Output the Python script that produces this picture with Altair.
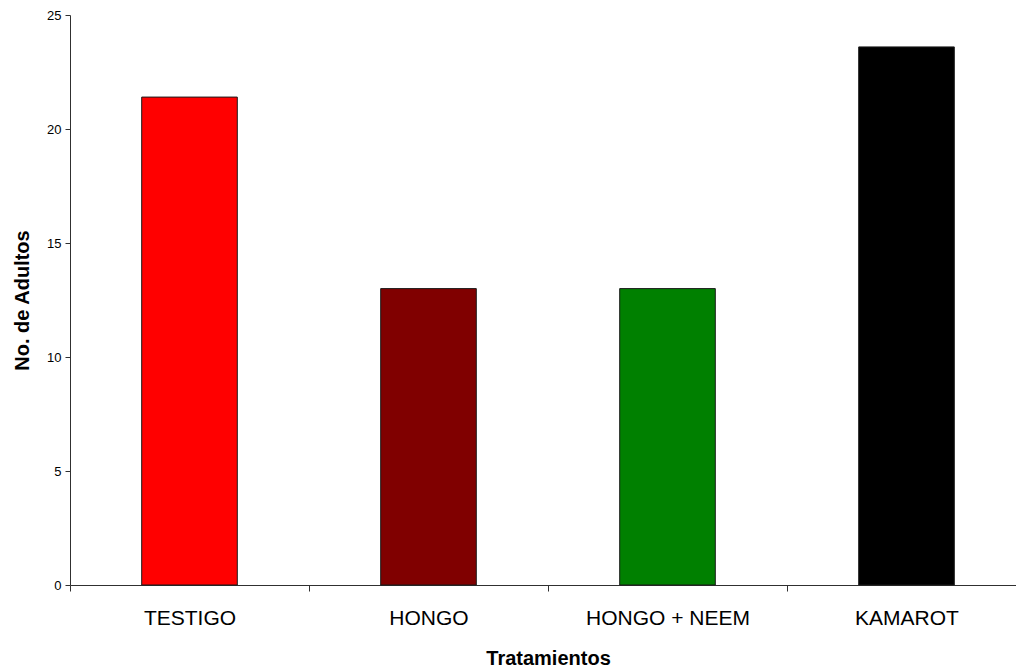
import altair as alt
import pandas as pd

# Número de adultos por tratamiento
tratamientos = ["TESTIGO", "HONGO", "HONGO + NEEM", "KAMAROT"]
adultos = [21.4, 13.0, 13.0, 23.6]
colores = ["#FF0000", "#800000", "#008000", "#000000"]

df = pd.DataFrame({"Tratamiento": tratamientos, "Adultos": adultos})

FONT = "Liberation Sans"

chart = (
    alt.Chart(df)
    .mark_bar(stroke="#1a1a1a", strokeWidth=1, width=alt.RelativeBandSize(band=0.4))
    .encode(
        x=alt.X(
            "Tratamiento:N",
            sort=tratamientos,
            title="Tratamientos",
            scale=alt.Scale(range=[0, 956], paddingInner=0, paddingOuter=0),
            axis=alt.Axis(
                labelAngle=0,
                labelFontSize=21,
                labelFont=FONT,
                labelColor="#000000",
                labelPadding=16,
                ticks=True,
                tickBand="extent",
                tickSize=6,
                tickWidth=1,
                tickColor="#303030",
                domainColor="#303030",
                domainWidth=1,
                grid=False,
                titleFontSize=20,
                titleFont=FONT,
                titleFontWeight="bold",
                titleColor="#000000",
                titlePadding=20,
            ),
        ),
        y=alt.Y(
            "Adultos:Q",
            title="No. de Adultos",
            scale=alt.Scale(domain=[0, 25], nice=False),
            axis=alt.Axis(
                values=[0, 5, 10, 15, 20, 25],
                grid=False,
                labelFontSize=13,
                labelFont=FONT,
                labelColor="#000000",
                labelPadding=4,
                tickSize=5,
                tickColor="#303030",
                domainColor="#303030",
                titleFontSize=20,
                titleFont=FONT,
                titleFontWeight="bold",
                titleColor="#000000",
                titlePadding=14,
            ),
        ),
        color=alt.Color(
            "Tratamiento:N",
            sort=tratamientos,
            scale=alt.Scale(domain=tratamientos, range=colores),
            legend=None,
        ),
    )
    .properties(
        width=946,
        height=570,
        background="white",
        autosize=alt.AutoSizeParams(type="none"),
        padding={"left": 70, "top": 15, "right": 0, "bottom": 83},
    )
    .configure_view(strokeWidth=0)
)

chart.save("out.html", embed_options={"renderer": "svg", "actions": False})
